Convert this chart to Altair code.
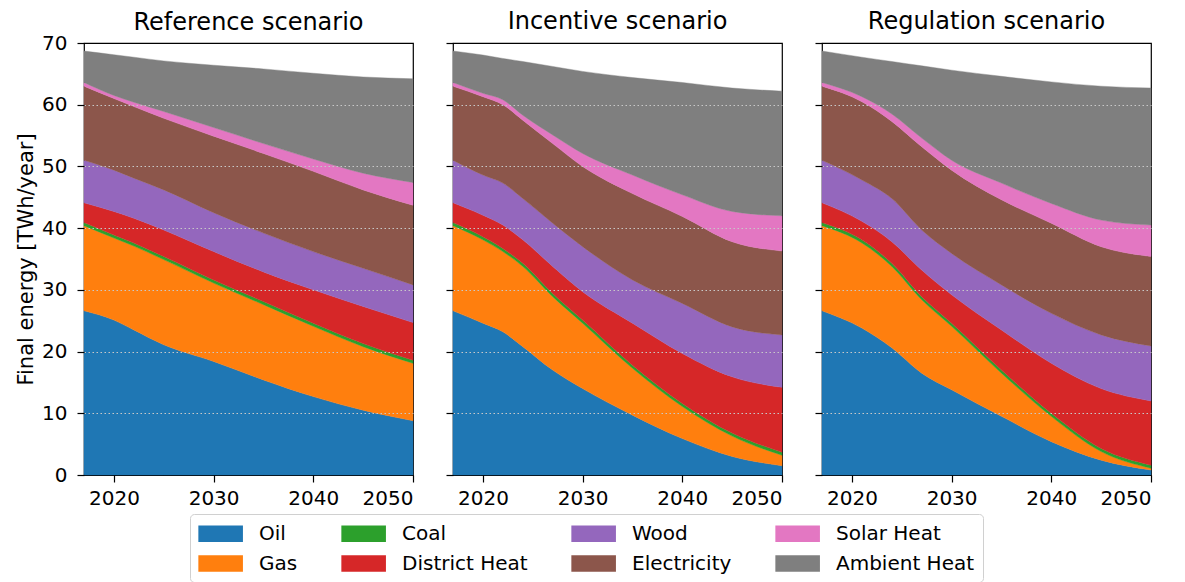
import altair as alt
import pandas as pd

# Energy carriers, bottom of the stack first, with their colours
carriers = ["Oil", "Gas", "Coal", "District Heat", "Wood", "Electricity", "Solar Heat", "Ambient Heat"]
carrier_colors = ["#1f77b4", "#ff7f0e", "#2ca02c", "#d62728", "#9467bd", "#8c564b", "#e377c2", "#7f7f7f"]

# Legend is filled row by row in four columns
legend_order = ["Oil", "Coal", "Wood", "Solar Heat", "Gas", "District Heat", "Electricity", "Ambient Heat"]

scenarios = ["Reference scenario", "Incentive scenario", "Regulation scenario"]

# Reference scenario [TWh/year]
ref_years = [2017, 2020, 2022, 2025, 2030, 2035, 2040, 2045, 2050]
ref_oil = [26.6, 25.1, 23.5, 21.1, 18.4, 15.4, 12.7, 10.5, 8.8]
ref_gas = [13.8, 13.3, 13.6, 13.8, 12.7, 12.2, 11.4, 10.3, 9.3]
ref_coal = [0.5, 0.5, 0.5, 0.5, 0.5, 0.5, 0.5, 0.5, 0.5]
ref_dh = [3.2, 3.8, 4.0, 4.3, 4.6, 4.8, 5.4, 6.0, 6.1]
ref_wood = [6.9, 6.7, 6.5, 6.5, 6.3, 6.3, 6.2, 6.2, 6.1]
ref_elec = [12.0, 11.6, 11.6, 11.6, 12.4, 12.9, 13.0, 12.7, 12.9]
ref_solar = [0.6, 0.5, 0.7, 1.1, 1.4, 1.6, 2.0, 2.7, 3.7]
ref_ambient = [5.1, 6.6, 7.3, 8.2, 10.1, 12.1, 13.9, 15.6, 16.8]

# Incentive scenario [TWh/year]
inc_years = [2017, 2020, 2022, 2024, 2027, 2030, 2035, 2040, 2045, 2050]
inc_oil = [26.6, 24.6, 23.2, 20.8, 17.0, 14.0, 9.7, 5.9, 3.0, 1.5]
inc_gas = [13.8, 13.5, 13.0, 13.0, 11.9, 10.6, 7.6, 5.2, 3.3, 1.7]
inc_coal = [0.5, 0.5, 0.5, 0.5, 0.5, 0.5, 0.5, 0.5, 0.5, 0.5]
inc_dh = [3.2, 3.5, 3.8, 3.8, 4.4, 4.6, 6.8, 8.1, 9.1, 10.5]
inc_wood = [6.9, 6.5, 6.8, 6.7, 7.0, 7.3, 7.0, 8.1, 8.1, 8.5]
inc_elec = [12.0, 12.7, 12.7, 12.7, 12.9, 13.0, 14.0, 14.1, 13.8, 13.6]
inc_solar = [0.6, 0.55, 0.8, 0.8, 1.4, 2.1, 3.0, 3.5, 4.9, 5.7]
inc_ambient = [5.1, 6.2, 6.7, 8.7, 11.1, 13.3, 15.8, 18.2, 20.0, 20.2]

# Regulation scenario [TWh/year]
reg_years = [2017, 2021, 2024, 2027, 2030, 2035, 2040, 2045, 2050]
reg_oil = [26.6, 23.8, 20.6, 16.5, 13.8, 9.5, 5.4, 2.4, 0.8]
reg_gas = [13.8, 13.8, 13.2, 11.9, 10.3, 7.0, 4.1, 1.4, 0.3]
reg_coal = [0.5, 0.5, 0.5, 0.5, 0.5, 0.5, 0.5, 0.5, 0.5]
reg_dh = [3.2, 3.0, 3.5, 4.3, 4.6, 6.5, 8.1, 9.7, 10.4]
reg_wood = [6.9, 6.7, 7.0, 6.5, 6.7, 7.3, 8.1, 8.7, 8.9]
reg_elec = [12.0, 12.7, 12.5, 13.5, 13.5, 13.8, 14.6, 14.3, 14.5]
reg_solar = [0.6, 0.8, 1.2, 1.4, 1.6, 2.7, 3.2, 4.3, 5.1]
reg_ambient = [5.1, 6.4, 8.5, 11.7, 14.6, 17.3, 19.7, 21.7, 22.2]

series = {
    "Reference scenario": (ref_years, [ref_oil, ref_gas, ref_coal, ref_dh, ref_wood, ref_elec, ref_solar, ref_ambient]),
    "Incentive scenario": (inc_years, [inc_oil, inc_gas, inc_coal, inc_dh, inc_wood, inc_elec, inc_solar, inc_ambient]),
    "Regulation scenario": (reg_years, [reg_oil, reg_gas, reg_coal, reg_dh, reg_wood, reg_elec, reg_solar, reg_ambient]),
}

rows = []
for scen, (years, layers) in series.items():
    for rank, (name, vals) in enumerate(zip(carriers, layers)):
        for yr, v in zip(years, vals):
            rows.append({"scenario": scen, "year": yr, "carrier": name, "rank": rank, "value": v})
df = pd.DataFrame(rows)

color_of = dict(zip(carriers, carrier_colors))
color_scale = alt.Scale(domain=legend_order, range=[color_of[c] for c in legend_order])

FONT = "DejaVu Sans"

# Wide legend swatch: the path runs from -1 to 3 so that it starts at the entry's left edge
SWATCH = "M-1,-0.736H3V0.736H-1Z"

# Grid lines only inside the frame (none on the 0 and 70 edges)
inner_grid = {"condition": {"test": "datum.value <= 0 || datum.value >= 70", "value": 0}, "value": 1}


def panel(scen, first):
    data = df[df["scenario"] == scen]
    y_axis = alt.Axis(
        values=list(range(0, 71, 10)),
        labels=first,
        title="Final energy [TWh/year]" if first else None,
        grid=True,
        gridColor="#c8c8c8",
        gridDash=[1.5, 2.5],
        gridWidth=1.2,
        gridOpacity=inner_grid,
        zindex=1,
    )
    x_axis = alt.Axis(values=[2020, 2030, 2040, 2050], format="d", title=None, grid=False, zindex=1)
    return (
        alt.Chart(data)
        .mark_area(interpolate="monotone", strokeWidth=0.4)
        .encode(
            x=alt.X("year:Q", scale=alt.Scale(domain=[2017, 2050], nice=False, zero=False), axis=x_axis),
            y=alt.Y("value:Q", stack="zero", scale=alt.Scale(domain=[0, 70], nice=False), axis=y_axis),
            color=alt.Color(
                "carrier:N",
                scale=color_scale,
                legend=alt.Legend(
                    title=None,
                    orient="none",
                    legendX=106,
                    legendY=471,
                    direction="horizontal",
                    columns=4,
                    symbolType=SWATCH,
                    symbolSize=497,
                    symbolStrokeWidth=0,
                    labelFont=FONT,
                    labelFontSize=20,
                    labelColor="black",
                    labelOffset=38,
                    columnPadding=43,
                    rowPadding=8,
                    padding=8,
                    strokeColor="#d0d0d0",
                    cornerRadius=4,
                    fillColor="white",
                ),
            ),
            stroke=alt.Stroke("carrier:N", scale=color_scale, legend=None),
            order=alt.Order("rank:Q"),
        )
        .properties(
            width=329,
            height=432,
            # the first panel's "70" label already lifts its title by half a line
            title=alt.TitleParams(
                scen,
                fontSize=24,
                font=FONT,
                fontWeight="normal",
                color="black",
                offset=-2 if first else 8,
                frame="group",
            ),
        )
    )


chart = (
    alt.hconcat(*[panel(s, i == 0) for i, s in enumerate(scenarios)], spacing=40, bounds="flush")
    .properties(padding={"left": 14, "top": 9, "right": 10, "bottom": 5})
    .configure_view(stroke="black", strokeWidth=1.2)
    .configure_axis(
        labelFont=FONT,
        labelFontSize=20,
        labelColor="black",
        titleFont=FONT,
        titleFontSize=21,
        titleFontWeight="normal",
        titleColor="black",
        tickColor="black",
        tickSize=7,
        tickWidth=1.2,
        domain=False,
        titlePadding=5,
    )
    .configure_axisX(labelPadding=6)
    .configure_axisY(labelPadding=10)
)

chart.save("out.html", embed_options={"renderer": "svg", "actions": False})
